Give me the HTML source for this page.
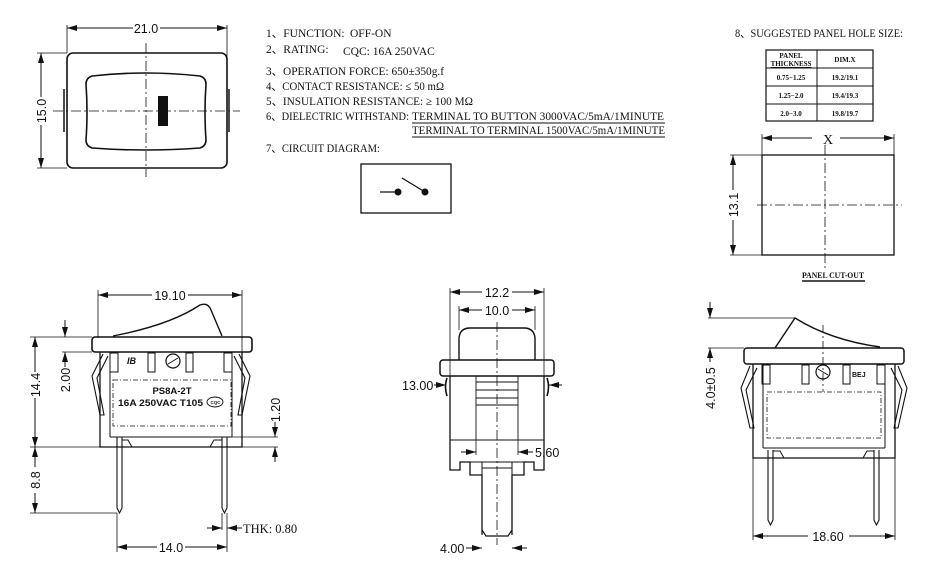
<!DOCTYPE html>
<html><head><meta charset="utf-8"><style>
html,body{margin:0;padding:0;background:#fff;}
svg{display:block;}
text{font-family:"Liberation Serif","DejaVu Serif",serif;fill:#111;}
.s text,.b text{font-family:"Liberation Sans","DejaVu Sans",sans-serif;}
.sf{font-family:"Liberation Serif",serif !important;}
</style></head><body>
<svg width="930" height="579" viewBox="0 0 930 579" xmlns="http://www.w3.org/2000/svg">
<defs>
<marker id="a" viewBox="0 0 10 6" refX="10" refY="3" markerWidth="10" markerHeight="6" orient="auto-start-reverse" markerUnits="userSpaceOnUse"><path d="M0,0 L10,3 L0,6 z" fill="#111"/></marker>
</defs>
<g stroke="#111" fill="none" stroke-width="1">

<!-- TOP-LEFT VIEW -->
<rect x="67" y="53" width="160" height="115" rx="6" stroke-width="1.6"/>
<path d="M92,76 Q146,70 200,76 Q206,78 206,84 Q204,112 206,140 Q206,146 200,148 Q146,152 92,148 Q86,146 86,140 Q88,112 86,84 Q86,78 92,76 Z" stroke-width="1.6"/>
<rect x="158" y="96" width="10" height="30" fill="#111" stroke="none"/>
<line x1="64" y1="89" x2="64" y2="132" stroke-width="1.5"/>
<line x1="229" y1="89" x2="229" y2="132" stroke-width="1.5"/>
<line x1="146" y1="43" x2="146" y2="177" stroke-dasharray="10,3,2,3" stroke-width="0.8"/>
<line x1="53" y1="111" x2="240" y2="111" stroke-dasharray="10,3,2,3" stroke-width="0.8"/>
<line x1="67" y1="25" x2="67" y2="53" stroke-width="0.8"/>
<line x1="227" y1="25" x2="227" y2="60" stroke-width="0.8"/>
<line x1="67" y1="28" x2="133" y2="28" marker-start="url(#a)"/>
<line x1="160" y1="28" x2="227" y2="28" marker-end="url(#a)"/>
<line x1="37" y1="53" x2="67" y2="53" stroke-width="0.8"/>
<line x1="37" y1="168" x2="67" y2="168" stroke-width="0.8"/>
<line x1="41" y1="53" x2="41" y2="97" marker-start="url(#a)"/>
<line x1="41" y1="125" x2="41" y2="168" marker-end="url(#a)"/>

<!-- circuit box -->
<rect x="361" y="164" width="90" height="49" stroke-width="1.3"/>
<line x1="380" y1="192" x2="398" y2="192" stroke-width="1.3"/>
<line x1="402" y1="178" x2="425" y2="192" stroke-width="1.3"/>
<circle cx="398" cy="192" r="3" fill="#111"/>
<circle cx="425" cy="192" r="3" fill="#111"/>
<line x1="412" y1="123" x2="665" y2="123" stroke-width="0.9"/>
<line x1="412" y1="137" x2="665" y2="137" stroke-width="0.9"/>

<!-- table -->
<rect x="766" y="50" width="107" height="71" stroke-width="1.2"/>
<line x1="766" y1="68" x2="873" y2="68"/>
<line x1="766" y1="86" x2="873" y2="86"/>
<line x1="766" y1="104" x2="873" y2="104"/>
<line x1="817" y1="50" x2="817" y2="121"/>
<!-- panel cutout -->
<rect x="762" y="155" width="132" height="100" stroke-width="1.3"/>
<line x1="825" y1="145" x2="825" y2="268" stroke-dasharray="10,3,2,3" stroke-width="0.8"/>
<line x1="757" y1="205" x2="902" y2="205" stroke-dasharray="10,3,2,3" stroke-width="0.8"/>
<line x1="762" y1="134" x2="762" y2="155" stroke-width="0.8"/>
<line x1="894" y1="134" x2="894" y2="155" stroke-width="0.8"/>
<line x1="762" y1="138" x2="812" y2="138" marker-start="url(#a)"/>
<line x1="840" y1="138" x2="894" y2="138" marker-end="url(#a)"/>
<line x1="730" y1="155" x2="762" y2="155" stroke-width="0.8"/>
<line x1="730" y1="255" x2="762" y2="255" stroke-width="0.8"/>
<line x1="733" y1="155" x2="733" y2="190" marker-start="url(#a)"/>
<line x1="733" y1="220" x2="733" y2="255" marker-end="url(#a)"/>
<line x1="802" y1="281" x2="865" y2="281" stroke-width="1.6"/>

<!-- BOTTOM-LEFT VIEW -->
<path d="M113,336 Q170,325 200,305 Q208,302 211,310 L222,336" stroke-width="1.4"/>
<rect x="92" y="337" width="160" height="15" rx="3" stroke-width="1.6"/>
<path d="M100,352 V447 H242 V352" stroke-width="1.3"/>
<path d="M110,352 V437 M232,352 V437 M110,437 H232" stroke-width="1"/>
<path d="M103,354 L92,376 L100,415 L104,415 L97,378 L108,356" stroke-width="1.1"/>
<path d="M239,354 L250,376 L242,415 L238,415 L245,378 L234,356" stroke-width="1.1"/>
<rect x="113" y="380" width="118" height="46" stroke-dasharray="5,2,1,2" stroke-width="0.8"/>
<rect x="110" y="353" width="8" height="19"/><rect x="148" y="353" width="7" height="19"/>
<rect x="186" y="353" width="7" height="19"/><rect x="224" y="353" width="8" height="19"/>
<circle cx="173" cy="361" r="7" stroke-width="1.2"/>
<line x1="168" y1="364" x2="178" y2="358"/>
<ellipse cx="215" cy="402" rx="8" ry="5" stroke-width="0.9"/>
<path d="M117,437 V508 L119.5,513 L122,508 V437" stroke-width="1.1"/>
<path d="M222,437 V508 L224.5,513 L227,508 V437" stroke-width="1.1"/>
<path d="M122,440 H128 L132,447 M222,440 H214 L210,447"/>
<line x1="98" y1="290" x2="98" y2="338" stroke-width="0.8"/>
<line x1="242" y1="290" x2="242" y2="352" stroke-width="0.8"/>
<line x1="98" y1="295" x2="152" y2="295" marker-start="url(#a)"/>
<line x1="188" y1="295" x2="242" y2="295" marker-end="url(#a)"/>
<line x1="30" y1="337" x2="92" y2="337" stroke-width="0.8"/>
<line x1="30" y1="447" x2="100" y2="447" stroke-width="0.8"/>
<line x1="30" y1="513" x2="117" y2="513" stroke-width="0.8"/>
<line x1="35" y1="337" x2="35" y2="372" marker-start="url(#a)"/>
<line x1="35" y1="398" x2="35" y2="447" marker-end="url(#a)"/>
<line x1="35" y1="447" x2="35" y2="467" marker-start="url(#a)"/>
<line x1="35" y1="493" x2="35" y2="513" marker-end="url(#a)"/>
<line x1="62" y1="352" x2="92" y2="352" stroke-width="0.8"/>
<line x1="65" y1="320" x2="65" y2="337" marker-end="url(#a)"/>
<line x1="65" y1="367" x2="65" y2="352" marker-end="url(#a)"/>
<line x1="227" y1="437" x2="278" y2="437" stroke-width="0.8"/>
<line x1="242" y1="447" x2="278" y2="447" stroke-width="0.8"/>
<line x1="275" y1="422" x2="275" y2="437" marker-end="url(#a)"/>
<line x1="275" y1="462" x2="275" y2="447" marker-end="url(#a)"/>
<line x1="117" y1="513" x2="117" y2="552" stroke-width="0.8"/>
<line x1="227" y1="513" x2="227" y2="552" stroke-width="0.8"/>
<line x1="222" y1="513" x2="222" y2="530" stroke-width="0.8"/>
<line x1="117" y1="547" x2="157" y2="547" marker-start="url(#a)"/>
<line x1="185" y1="547" x2="227" y2="547" marker-end="url(#a)"/>
<line x1="207" y1="528" x2="222" y2="528" marker-end="url(#a)"/>
<line x1="242" y1="528" x2="227" y2="528" marker-end="url(#a)"/>

<!-- MIDDLE VIEW -->
<path d="M459,360 V338 Q460,328 470,328 H524 Q534,328 535,338 V360" stroke-width="1.4"/>
<rect x="440" y="360" width="114" height="16" rx="3" stroke-width="1.5"/>
<path d="M450,376 V470 H460 V462 H470 V475 H482 V535 M544,376 V470 H534 V462 H524 V475 H512 V535" stroke-width="1.3"/>
<path d="M482,530 L486,536 H508 L512,530" stroke-width="1.2"/>
<line x1="450" y1="440" x2="544" y2="440"/>
<path d="M476,376 V440 M518,376 V440 M476,382 H518 M476,390 H518 M476,398 H518 M476,405 H518" stroke-width="0.9"/>
<path d="M460,462 H534 M482,462 V475 M512,462 V475 M482,468 H512"/>
<path d="M447,378 Q444,387 447,396 M547,378 Q550,387 547,396" stroke-width="1.6"/>
<line x1="497" y1="322" x2="497" y2="545" stroke-dasharray="10,3,2,3" stroke-width="0.8"/>
<line x1="450" y1="288" x2="450" y2="376" stroke-width="0.8"/>
<line x1="544" y1="288" x2="544" y2="376" stroke-width="0.8"/>
<line x1="459" y1="306" x2="459" y2="330" stroke-width="0.8"/>
<line x1="535" y1="306" x2="535" y2="330" stroke-width="0.8"/>
<line x1="450" y1="292" x2="482" y2="292" marker-start="url(#a)"/>
<line x1="512" y1="292" x2="544" y2="292" marker-end="url(#a)"/>
<line x1="459" y1="310" x2="482" y2="310" marker-start="url(#a)"/>
<line x1="512" y1="310" x2="535" y2="310" marker-end="url(#a)"/>
<line x1="434" y1="385" x2="446" y2="385" marker-end="url(#a)"/>
<line x1="562" y1="385" x2="549" y2="385" marker-end="url(#a)"/>
<line x1="476" y1="440" x2="476" y2="455" stroke-width="0.8"/>
<line x1="518" y1="440" x2="518" y2="455" stroke-width="0.8"/>
<line x1="461" y1="452" x2="476" y2="452" marker-end="url(#a)"/>
<line x1="533" y1="452" x2="518" y2="452" marker-end="url(#a)"/>
<line x1="466" y1="548" x2="482" y2="548" marker-end="url(#a)"/>
<line x1="527" y1="548" x2="512" y2="548" marker-end="url(#a)"/>

<!-- RIGHT VIEW -->
<path d="M775,348 L795,318 Q830,340 880,347" stroke-width="1.4"/>
<rect x="744" y="348" width="160" height="16" rx="3" stroke-width="1.5"/>
<path d="M753,364 V458 H895 V364" stroke-width="1.3"/>
<path d="M763,364 V448 M885,364 V448 M763,448 H885"/>
<path d="M750,366 L741,388 L750,428 L754,428 L746,390 L757,368" stroke-width="1.1"/>
<path d="M898,366 L907,388 L898,428 L894,428 L902,390 L891,368" stroke-width="1.1"/>
<rect x="767" y="392" width="114" height="46" stroke-dasharray="5,2,1,2" stroke-width="0.8"/>
<rect x="762" y="365" width="8" height="19"/><rect x="802" y="365" width="7" height="19"/>
<rect x="843" y="365" width="7" height="19"/><rect x="877" y="365" width="8" height="19"/>
<circle cx="823" cy="372" r="7" stroke-width="1.2"/>
<line x1="818" y1="369" x2="828" y2="375"/>
<line x1="823" y1="325" x2="823" y2="392" stroke-dasharray="8,3,2,3" stroke-width="0.8"/>
<path d="M768,450 V520 L770.5,525 L773,520 V450" stroke-width="1.1"/>
<path d="M874,450 V520 L876.5,525 L879,520 V450" stroke-width="1.1"/>
<path d="M773,451 H780 L784,458 M874,451 H867 L863,458"/>
<line x1="708" y1="318" x2="795" y2="318" stroke-width="0.8"/>
<line x1="708" y1="348" x2="744" y2="348" stroke-width="0.8"/>
<line x1="710" y1="302" x2="710" y2="318" marker-end="url(#a)"/>
<line x1="710" y1="348" x2="710" y2="362" marker-start="url(#a)"/>
<line x1="753" y1="458" x2="753" y2="540" stroke-width="0.8"/>
<line x1="895" y1="458" x2="895" y2="540" stroke-width="0.8"/>
<line x1="753" y1="536" x2="808" y2="536" marker-start="url(#a)"/>
<line x1="849" y1="536" x2="895" y2="536" marker-end="url(#a)"/>
</g>

<!-- TEXT -->
<g class="s" font-size="12.5">
<text x="146" y="33" text-anchor="middle">21.0</text>
<text transform="translate(46,111) rotate(-90)" text-anchor="middle">15.0</text>
<text x="170" y="300" text-anchor="middle">19.10</text>
<text transform="translate(40,385) rotate(-90)" text-anchor="middle">14.4</text>
<text transform="translate(70,380) rotate(-90)" text-anchor="middle">2.00</text>
<text transform="translate(280,410) rotate(-90)" text-anchor="middle">1.20</text>
<text transform="translate(40,480) rotate(-90)" text-anchor="middle">8.8</text>
<text x="171" y="552" text-anchor="middle">14.0</text>
<text x="497" y="297" text-anchor="middle">12.2</text>
<text x="497" y="315" text-anchor="middle">10.0</text>
<text x="402" y="390">13.00</text>
<text x="535" y="457">5.60</text>
<text x="440" y="553">4.00</text>
<text transform="translate(715,388) rotate(-90)" text-anchor="middle">4.0±0.5</text>
<text x="828" y="541" text-anchor="middle">18.60</text>
<text transform="translate(738,205) rotate(-90)" text-anchor="middle">13.1</text>
</g>
<text x="243" y="533" font-size="12.5" class="sf">THK: 0.80</text>
<text x="828" y="144" font-size="14" text-anchor="middle">X</text>
<g class="b" font-weight="bold">
<text x="172" y="394" font-size="9.5" text-anchor="middle">PS8A-2T</text>
<text x="118" y="406" font-size="9.5" textLength="85" lengthAdjust="spacingAndGlyphs">16A 250VAC T105</text>
<text x="210.5" y="404" font-size="4.5">CQC</text>
<text x="127" y="364" font-size="9" font-style="italic">IB</text>
<text x="852" y="377" font-size="7">BEJ</text>
</g>
<g font-size="11.5">
<text x="266" y="37">1、FUNCTION:</text><text x="350" y="37">OFF-ON</text>
<text x="266" y="53">2、RATING:</text><text x="343" y="55">CQC: 16A 250VAC</text>
<text x="266" y="75" textLength="178" lengthAdjust="spacingAndGlyphs">3、OPERATION FORCE: 650±350g.f</text>
<text x="266" y="90" textLength="178" lengthAdjust="spacingAndGlyphs">4、CONTACT RESISTANCE: ≤ 50 mΩ</text>
<text x="266" y="105" textLength="207" lengthAdjust="spacingAndGlyphs">5、INSULATION RESISTANCE: ≥ 100 MΩ</text>
<text x="266" y="120" textLength="143" lengthAdjust="spacingAndGlyphs">6、DIELECTRIC WITHSTAND:</text>
<text x="412" y="120" textLength="252" lengthAdjust="spacingAndGlyphs">TERMINAL TO BUTTON 3000VAC/5mA/1MINUTE</text>
<text x="412" y="134" textLength="253" lengthAdjust="spacingAndGlyphs">TERMINAL TO TERMINAL 1500VAC/5mA/1MINUTE</text>
<text x="266" y="152" textLength="114" lengthAdjust="spacingAndGlyphs">7、CIRCUIT DIAGRAM:</text>
<text x="735" y="37" textLength="168" lengthAdjust="spacingAndGlyphs">8、SUGGESTED PANEL HOLE SIZE:</text>
</g>
<g font-size="7" text-anchor="middle" font-weight="bold">
<text x="791" y="58">PANEL</text>
<text x="791" y="66" text-decoration="underline">THICKNESS</text>
<text x="845" y="62">DIM.X</text>
<text x="791" y="80">0.75−1.25</text><text x="845" y="80">19.2/19.1</text>
<text x="791" y="98">1.25−2.0</text><text x="845" y="98">19.4/19.3</text>
<text x="791" y="116">2.0−3.0</text><text x="845" y="116">19.8/19.7</text>
<text x="833" y="278" font-size="8" textLength="62" lengthAdjust="spacingAndGlyphs">PANEL CUT-OUT</text>
</g>
</svg>
</body></html>
